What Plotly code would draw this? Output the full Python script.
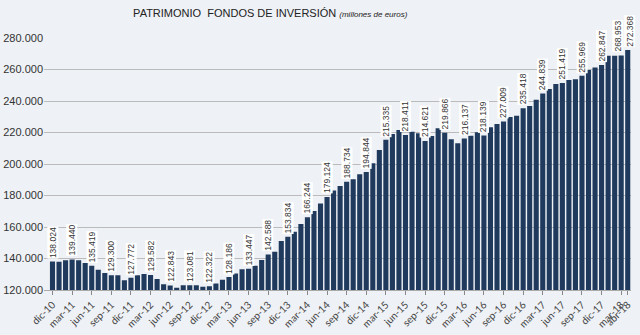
import plotly.graph_objects as go

months = ["ene", "feb", "mar", "abr", "may", "jun", "jul", "ago", "sep", "oct", "nov", "dic"]
categories = ["dic-10"] + [f"{m}-{y}" for y in range(11, 18) for m in months] + ["ene-18", "feb-18", "mar-18", "abr-18"]

values = [
    138024, 138000, 138900, 139440, 138900, 137100, 135419, 132900, 130800, 129300, 129300, 126200,
    127772, 129300, 130200, 129582, 127000, 123600, 122843, 121500, 123000, 123081, 123000, 122100,
    122322, 124200, 126500, 128186, 130400, 133100, 133447, 135400, 139000, 142588, 144300, 151100,
    153834, 157000, 161900, 166244, 170200, 175000, 179124, 183100, 186000, 188734, 190300, 193500,
    194844, 200400, 208900, 215335, 219000, 221600, 218411, 220500, 219500, 214621, 217800, 222700,
    219866, 215700, 213100, 216137, 218000, 220100, 218139, 223300, 225400, 227009, 229800, 230600,
    235418, 236800, 240800, 244839, 247600, 250800, 251419, 253400, 253800, 255969, 259700, 261200,
    262847, 268800, 268800, 268953, 272368,
]

labeled_idx = list(range(0, 88, 3)) + [88]
tick_idx = list(range(0, 88, 3)) + [88]
y_ticks = [120000, 140000, 160000, 180000, 200000, 220000, 240000, 260000, 280000]

fig = go.Figure()
fig.add_trace(go.Bar(
    x=categories, y=values,
    marker=dict(color="#1f3a5c", line=dict(width=0)),
    hoverinfo="x+y",
))

for i in labeled_idx:
    xs = -3 if i == 87 else (2 if i == 88 else 0)
    fig.add_annotation(
        x=categories[i], y=values[i],
        text=f"{values[i]:,}".replace(",", "."),
        textangle=-90, showarrow=False,
        xanchor="center", yanchor="middle", yshift=19, xshift=xs,
        font=dict(family="Liberation Sans, Arial", size=8.5, color="#333333"),
        bgcolor="white", borderpad=0,
    )

fig.update_layout(
    width=640, height=335,
    margin=dict(l=44, r=9, t=38, b=45, autoexpand=False),
    paper_bgcolor="#eef1f5", plot_bgcolor="#eef1f5",
    separators=",.",
    bargap=0.22,
    showlegend=False,
    title=dict(
        text="PATRIMONIO\u00a0\u00a0FONDOS DE INVERSIÓN <i><span style='font-size:8px'>(millones de euros)</span></i>",
        x=0.208, xanchor="left", xref="container",
        y=0.962, yanchor="middle", yref="container",
        font=dict(family="Liberation Sans, Arial", size=11, color="#222222"),
    ),
    xaxis=dict(
        type="category",
        automargin=False,
        range=[-1.3, 88.5],
        tickvals=[categories[i] for i in tick_idx],
        ticktext=[categories[i] for i in tick_idx],
        tickangle=-45,
        ticks="outside", ticklen=4, tickcolor="#888888",
        showline=True, linecolor="#aaaaaa", linewidth=1,
        showgrid=False,
        tickfont=dict(family="Lato, Open Sans", size=10, color="#444444"),
    ),
    yaxis=dict(
        automargin=False,
        range=[120000, 280000],
        tickvals=y_ticks,
        tickformat=",d",
        showgrid=True, gridcolor="#bbbbbb", gridwidth=1,
        zeroline=False,
        ticks="",
        tickfont=dict(family="Liberation Sans, Arial", size=11, color="#333333"),
    ),
)

fig.write_html("out.html")
